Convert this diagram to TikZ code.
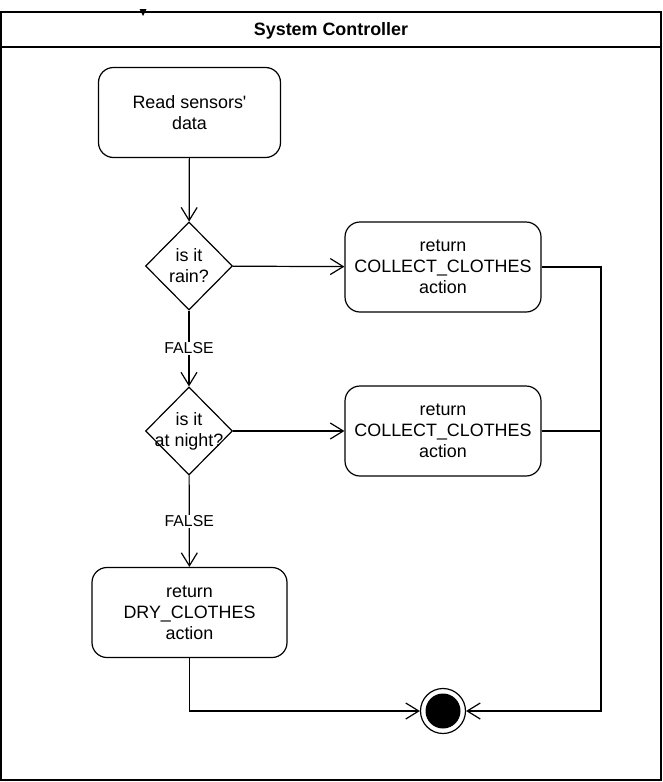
\documentclass[tikz,border=0pt]{standalone}
\usepackage{fontspec}
\setmainfont{Liberation Sans}
\usetikzlibrary{shapes.geometric,arrows.meta}
\begin{document}
\begin{tikzpicture}[x=1pt,y=-1pt,>={Straight Barb[length=13pt,width=16pt]},line width=1.2pt,
    every node/.style={font=\fontsize{17.9}{21}\selectfont},
    actbox/.style={draw,rounded corners=15pt,minimum width=196pt,minimum height=90pt,align=center},
    decision/.style={diamond,draw,minimum width=87pt,minimum height=88pt,inner sep=0pt},
    falselbl/.style={fill=white,inner sep=1pt,font=\fontsize{15.8}{18}\selectfont}]
\useasboundingbox (0,0) rectangle (663,782);
% swimlane
\draw (1,12) rectangle (661,780);
\draw (1,47) -- (661,47);
\node[font=\fontsize{17.9}{21}\selectfont\bfseries] (title) at (331,31) {System Controller};
\fill (139.5,9) -- (146.5,9) -- (143,16) -- cycle;
% activities
\node[actbox,minimum width=182pt,minimum height=90pt] (read) at (189.5,112.5) {Read sensors\textquotesingle\\data};
\node[decision] (rain) at (189,266) {};
\node[align=center] (raintxt) at (rain) {is it\\rain?};
\node[actbox] (collectA) at (443,267) {return\\COLLECT\_CLOTHES\\action};
\node[decision] (night) at (189,431) {};
\node[align=center] (nighttxt) at (night) {is it\\at night?};
\node[actbox] (collectB) at (443,431) {return\\COLLECT\_CLOTHES\\action};
\node[actbox,minimum width=195pt] (dry) at (189.5,612.5) {return\\DRY\_CLOTHES\\action};
\node[circle,draw,minimum size=45pt,inner sep=0pt] (final) at (443,711) {};
\node[circle,fill,minimum size=35pt,inner sep=0pt] (finaldot) at (final) {};
\coordinate (joint) at (601,711);
% flows
\draw[->] (read) -- (rain);
\draw[->] (rain) -- (collectA);
\draw[->] (night) -- (collectB);
\draw[->] (rain) -- node[falselbl] {FALSE} (night);
\draw[->] (night) -- node[falselbl] {FALSE} (dry);
\draw[->] (dry) |- (final);
\draw[->] (collectA.east) -| (joint) -- (final);
\draw (collectB.east) -- (collectB.east -| joint);
\end{tikzpicture}
\end{document}
